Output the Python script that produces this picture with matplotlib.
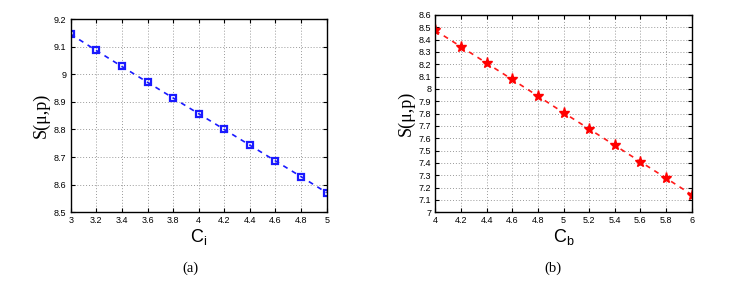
import matplotlib
matplotlib.use("Agg")
import matplotlib.pyplot as plt

# Panel (a)
ci = [3.0, 3.2, 3.4, 3.6, 3.8, 4.0, 4.2, 4.4, 4.6, 4.8, 5.0]
s_a = [9.145, 9.086, 9.028, 8.971, 8.914, 8.857, 8.800, 8.743, 8.686, 8.629, 8.571]

# Panel (b)
cb = [4.0, 4.2, 4.4, 4.6, 4.8, 5.0, 5.2, 5.4, 5.6, 5.8, 6.0]
s_b = [8.475, 8.343, 8.210, 8.077, 7.943, 7.808, 7.676, 7.543, 7.410, 7.277, 7.143]

W, H = 732, 286
fig = plt.figure(figsize=(W / 100, H / 100), dpi=100)


def make_axes(left, right, top, bottom):
    return fig.add_axes([left / W, 1 - bottom / H, (right - left) / W, (bottom - top) / H])


def style(ax):
    ax.grid(True, linestyle=(0, (1, 2)), color="#9a9a9a", linewidth=0.7)
    ax.tick_params(direction="in", labelsize=6.5, length=3, pad=3,
                   top=True, right=True)
    for lab in ax.get_xticklabels() + ax.get_yticklabels():
        lab.set_family("Liberation Sans")
    for sp in ax.spines.values():
        sp.set_linewidth(1.0)
    ax.set_axisbelow(True)


ax1 = make_axes(70.7, 326.7, 19, 212.3)
ax1.plot(ci, s_a, linestyle="--", color="#1a1aff", linewidth=1.2,
         marker="s", markersize=4.5, markerfacecolor="none",
         markeredgewidth=1.6, dashes=(3, 3))
ax1.set_xlim(3, 5)
ax1.set_ylim(8.5, 9.2)
ax1.set_xticks(ci)
ax1.set_xticklabels(["3", "3.2", "3.4", "3.6", "3.8", "4", "4.2", "4.4", "4.6", "4.8", "5"])
ax1.set_yticks([8.5, 8.6, 8.7, 8.8, 8.9, 9.0, 9.1, 9.2])
ax1.set_yticklabels(["8.5", "8.6", "8.7", "8.8", "8.9", "9", "9.1", "9.2"])
style(ax1)
ax1.set_ylabel("S(\u03bc,p)", fontsize=13, family="Liberation Serif", labelpad=3)
ax1.set_xlabel(r"C$_{\mathregular{i}}$", fontsize=13, family="Liberation Sans", labelpad=1)

ax2 = make_axes(435.3, 691.7, 15, 212.3)
ax2.plot(cb, s_b, linestyle="--", color="#ff1a1a", linewidth=1.2,
         marker="*", markersize=8, markerfacecolor="#ff0000",
         markeredgecolor="#ff0000", dashes=(3, 3))
ax2.set_xlim(4, 6)
ax2.set_ylim(7, 8.6)
ax2.set_xticks(cb)
ax2.set_xticklabels(["4", "4.2", "4.4", "4.6", "4.8", "5", "5.2", "5.4", "5.6", "5.8", "6"])
yt = [7.0, 7.1, 7.2, 7.3, 7.4, 7.5, 7.6, 7.7, 7.8, 7.9, 8.0, 8.1, 8.2, 8.3, 8.4, 8.5, 8.6]
ax2.set_yticks(yt)
ax2.set_yticklabels([("%g" % v) for v in yt])
style(ax2)
ax2.set_ylabel("S(\u03bc,p)", fontsize=13, family="Liberation Serif", labelpad=3)
ax2.set_xlabel(r"C$_{\mathregular{b}}$", fontsize=13, family="Liberation Sans", labelpad=1)

fig.text(190 / W, 1 - 268 / H, "(a)", ha="center", va="center",
         fontsize=10.5, family="Liberation Serif")
fig.text(553 / W, 1 - 268 / H, "(b)", ha="center", va="center",
         fontsize=10.5, family="Liberation Serif")

fig.savefig("out.png", dpi=100)
